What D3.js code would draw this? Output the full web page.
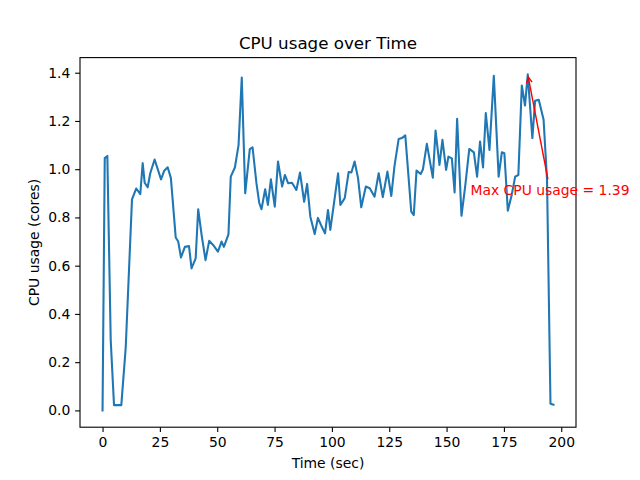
<!DOCTYPE html>
<html>
<head>
<meta charset="utf-8">
<script src="https://cdn.jsdelivr.net/npm/d3@7"></script>
<style>
  html, body { margin: 0; padding: 0; background: #fff; }
  svg { display: block; font-family: "DejaVu Sans", sans-serif; }
</style>
</head>
<body>
<script>
// ---- data ----
const timeSec = [0, 0.96, 2.09, 3.57, 5.0, 8.18, 10.1, 12.84, 14.7, 16.46, 17.5, 18.37, 19.68, 20.8, 22.7,
  25.5, 26.9, 28.4, 29.8, 31.9, 33.0, 34.2, 35.9, 37.7, 38.8, 40.6, 41.7, 43.2, 44.9, 46.5,
  48.2, 50.3, 51.9, 52.9, 54.9, 55.9, 57.7, 59.3, 60.7, 62.2, 64.2, 65.4, 67.1, 68.3, 69.3,
  70.9, 72.1, 73.4, 75.1, 76.5, 78.3, 79.5, 80.9, 82.6, 84.5, 86.1, 87.9, 89.2, 90.6, 92.5,
  93.9, 95.7, 97.0, 98.3, 99.3, 102.7, 103.7, 105.6, 107.3, 108.5, 109.9, 111.4, 112.8, 114.8,
  116.5, 118.6, 120.4, 122.2, 124.2, 125.9, 127.3, 129.1, 130.5, 132.0, 134.6, 135.7, 136.9,
  138.7, 139.7, 141.4, 144.0, 145.2, 146.9, 148.2, 149.8, 150.8, 152.3, 153.5, 154.6, 156.5,
  158.1, 159.9, 161.9, 163.3, 164.6, 165.9, 167.1, 168.7, 170.6, 172.7, 174.1, 175.2, 176.7,
  178.4, 179.9, 181.3, 182.8, 184.2, 185.4, 187.4, 188.6, 190.2, 192.3, 193.8, 195.3, 196.6];
const cpuCores = [0.00, 1.046, 1.055, 0.29, 0.022, 0.022, 0.26, 0.875, 0.92, 0.897, 1.025, 0.944, 0.925, 0.983, 1.04,
  0.958, 0.994, 1.008, 0.963, 0.717, 0.70, 0.634, 0.678, 0.681, 0.589, 0.630, 0.834, 0.727, 0.623, 0.703,
  0.686, 0.658, 0.70, 0.678, 0.73, 0.969, 1.007, 1.10, 1.38, 0.90, 1.083, 1.091, 0.942, 0.861, 0.834,
  0.917, 0.852, 0.958, 0.845, 1.032, 0.928, 0.976, 0.942, 0.944, 0.914, 0.986, 0.865, 0.939, 0.803, 0.731,
  0.798, 0.759, 0.734, 0.831, 0.748, 0.983, 0.852, 0.88, 0.988, 0.986, 1.032, 0.963, 0.842, 0.928,
  0.921, 0.886, 0.983, 0.884, 0.99, 0.889, 1.014, 1.125, 1.129, 1.14, 0.824, 0.81, 0.994,
  0.98, 1.0, 1.105, 0.965, 1.16, 1.018, 1.122, 0.997, 1.052, 1.045, 0.904, 1.209, 0.807,
  0.928, 1.084, 1.07, 0.969, 1.115, 1.007, 1.233, 1.08, 1.387, 0.969, 1.07, 1.066, 0.828,
  0.893, 0.969, 0.976, 1.347, 1.264, 1.393, 1.129, 1.284, 1.288, 1.205, 0.955, 0.028, 0.024];
const xTicks = [0, 25, 50, 75, 100, 125, 150, 175, 200];
const yTicks = [0.0, 0.2, 0.4, 0.6, 0.8, 1.0, 1.2, 1.4];
const titleText = "CPU usage over Time";
const xLabel = "Time (sec)";
const yLabel = "CPU usage (cores)";

// ---- layout ----
const W = 640, H = 480;
const L = 80, T = 57.6, PW = 496, PH = 369.6;
const FS = 13.9;

const svg = d3.select("body").append("svg").attr("width", W).attr("height", H);
svg.append("rect").attr("width", W).attr("height", H).attr("fill", "#fff");

const pts = timeSec.map((t, i) => ({t, v: cpuCores[i]}));
const [tMin, tMax] = d3.extent(timeSec);
const [vMin, vMax] = d3.extent(cpuCores);
const tPad = (tMax - tMin) * 0.05, vPad = (vMax - vMin) * 0.05;

const x = d3.scaleLinear().domain([tMin - tPad, tMax + tPad]).range([L, L + PW]);
const y = d3.scaleLinear().domain([vMin - vPad, vMax + vPad]).range([T + PH, T]);

const tick = 4.86, pad = 4.86;

const gx = svg.append("g").attr("transform", `translate(0,${T + PH})`)
  .call(d3.axisBottom(x).tickValues(xTicks).tickFormat(d3.format("d")).tickSize(tick).tickPadding(pad).tickSizeOuter(0));
const gy = svg.append("g").attr("transform", `translate(${L},0)`)
  .call(d3.axisLeft(y).tickValues(yTicks).tickFormat(d3.format(".1f")).tickSize(tick).tickPadding(pad).tickSizeOuter(0));
[gx, gy].forEach(g => {
  g.select(".domain").remove();
  g.selectAll(".tick line").attr("stroke", "#000").attr("stroke-width", 1.1);
  g.selectAll(".tick text").attr("fill", "#000").attr("font-size", FS).attr("font-family", "DejaVu Sans");
});

// line
svg.append("path").datum(pts)
  .attr("fill", "none").attr("stroke", "#1f77b4").attr("stroke-width", 2.08)
  .attr("stroke-linejoin", "round").attr("stroke-linecap", "square")
  .attr("d", d3.line().x(d => x(d.t)).y(d => y(d.v)));

// spines
svg.append("rect").attr("x", L).attr("y", T).attr("width", PW).attr("height", PH)
  .attr("fill", "none").attr("stroke", "#000").attr("stroke-width", 1.1);

// title & labels
svg.append("text").attr("x", L + PW / 2).attr("y", T - 8.3).attr("text-anchor", "middle")
  .attr("font-size", 16.7).attr("fill", "#000").text(titleText);
svg.append("text").attr("x", L + PW / 2).attr("y", 468).attr("text-anchor", "middle")
  .attr("font-size", FS).attr("fill", "#000").text(xLabel);
svg.append("text").attr("transform", `translate(39,${T + PH / 2}) rotate(-90)`).attr("text-anchor", "middle")
  .attr("font-size", FS).attr("fill", "#000").text(yLabel);

// annotation of maximum
const maxPt = pts.reduce((a, b) => (b.v > a.v ? b : a));
const ann = svg.append("text").attr("x", x(maxPt.t - 25)).attr("y", y(maxPt.v - 0.5))
  .attr("font-size", FS).attr("fill", "red").text("Max CPU usage = " + maxPt.v.toFixed(2));
const bb = ann.node().getBBox();
const cx = bb.x + bb.width / 2, cy = bb.y + bb.height / 2;
const px = x(maxPt.t), py = y(maxPt.v);
// clip at the bbox edge
let dx = px - cx, dy = py - cy;
const sx = dx !== 0 ? (bb.width / 2) / Math.abs(dx) : Infinity;
const sy = dy !== 0 ? (bb.height / 2) / Math.abs(dy) : Infinity;
const s = Math.min(sx, sy);
const len = Math.hypot(dx, dy);
const ux = dx / len, uy = dy / len;
const x0 = cx + dx * s + ux * 2.8, y0 = cy + dy * s + uy * 2.8;
const x1 = px - ux * 2.8, y1 = py - uy * 2.8;
svg.append("line").attr("x1", x0).attr("y1", y0).attr("x2", x1).attr("y2", y1)
  .attr("stroke", "red").attr("stroke-width", 1.4);
const hl = 5.6, hw = 2.8;
const bx = x1 - ux * hl, by = y1 - uy * hl;
svg.append("path")
  .attr("d", `M${bx - uy * hw},${by + ux * hw}L${x1},${y1}L${bx + uy * hw},${by - ux * hw}`)
  .attr("fill", "none").attr("stroke", "red").attr("stroke-width", 1.4);
</script>
</body>
</html>
